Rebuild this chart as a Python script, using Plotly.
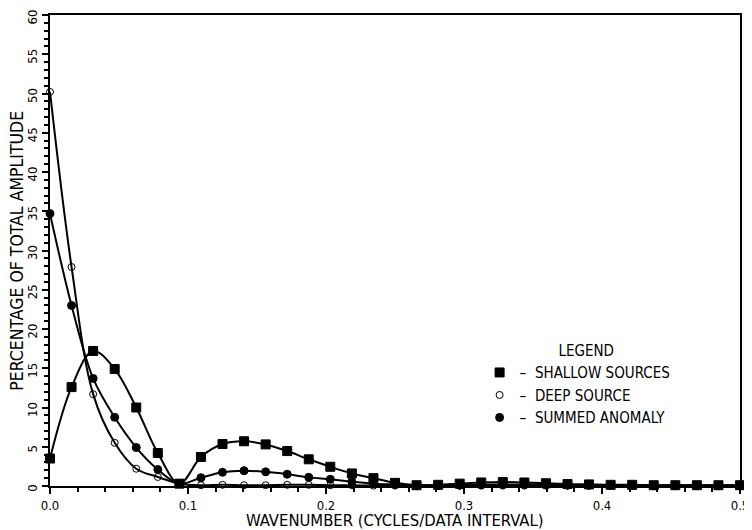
import plotly.graph_objects as go

# wavenumber index k -> k/64 cycles per data interval
k_index = list(range(33))
wavenumber = [k / 64 for k in k_index]

shallow = [3.5, 12.6, 17.2, 14.9, 10.0, 4.2, 0.3, 3.7, 5.35, 5.7, 5.3, 4.45, 3.4,
           2.45, 1.6, 1.0, 0.4, 0.1, 0.15, 0.3, 0.45, 0.5, 0.45, 0.35, 0.25, 0.2,
           0.15, 0.15, 0.1, 0.1, 0.1, 0.1, 0.1]
deep = [50.2, 27.9, 11.7, 5.5, 2.2, 1.15, 0.3, 0.1, 0.15, 0.1, 0.1, 0.15, 0.15,
        0.1, 0.1, 0.05, 0.05, 0.05, 0.05, 0.05, 0.05, 0.05, 0.05, 0.05, 0.05,
        0.05, 0.05, 0.05, 0.05, 0.05, 0.05, 0.05, 0.05]
summed = [34.7, 23.0, 13.7, 8.75, 4.9, 2.1, 0.3, 1.05, 1.75, 1.95, 1.8, 1.5, 1.1,
          0.85, 0.55, 0.3, 0.2, 0.1, 0.05, 0.1, 0.15, 0.2, 0.2, 0.15, 0.1, 0.1,
          0.1, 0.05, 0.05, 0.05, 0.05, 0.05, 0.05]

names = ["SHALLOW SOURCES", "DEEP SOURCE", "SUMMED ANOMALY"]
symbols = ["square", "circle-open", "circle"]
sizes = [9, 7, 8]
series = [shallow, deep, summed]

x_ticks = [0, 0.1, 0.2, 0.3, 0.4, 0.5]
x_ticktext = ["0.0", "0.1", "0.2", "0.3", "0.4", "0.5"]
y_ticks = list(range(0, 61, 5))

x_title = "WAVENUMBER (CYCLES/DATA INTERVAL)"
y_title = "PERCENTAGE OF TOTAL AMPLITUDE"
legend_title = "\u00a0\u00a0\u00a0\u00a0LEGEND"

FONT = "DejaVu Sans Condensed, DejaVu Sans, sans-serif"

fig = go.Figure()
for vals, sym, sz in zip(series, symbols, sizes):
    fig.add_trace(go.Scatter(
        x=wavenumber, y=vals, mode="lines+markers",
        line=dict(color="black", width=2, shape="spline", smoothing=1.0),
        marker=dict(symbol=sym, size=sz, color="black",
                    line=dict(color="black", width=1)),
        showlegend=False, cliponaxis=False))

for name, sym, sz in zip(names, symbols, sizes):
    fig.add_trace(go.Scatter(
        x=[None], y=[None], mode="markers", name="\u2013  " + name,
        marker=dict(symbol=sym, size=sz, color="black",
                    line=dict(color="black", width=1)),
        showlegend=True))

# page body has an 8px margin, so the figure is sized to fit inside the window
fig.update_layout(
    width=744, height=522,
    margin=dict(l=42, r=12, t=7, b=44),
    paper_bgcolor="white", plot_bgcolor="white",
    font=dict(family=FONT, color="black", size=14),
    legend=dict(
        x=0.6226, y=0.317, xanchor="left", yanchor="top",
        bgcolor="rgba(0,0,0,0)", borderwidth=0,
        font=dict(size=15, family=FONT),
        title=dict(text=legend_title, side="top center", font=dict(size=15, family=FONT)),
        itemwidth=30, tracegroupgap=0,
    ),
    xaxis=dict(
        range=[0, 0.5], tickmode="array",
        tickvals=x_ticks, ticktext=x_ticktext,
        ticks="outside", ticklen=6, tickwidth=2, tickcolor="black",
        minor=dict(dtick=0.02, ticks="outside", ticklen=4, tickwidth=2, tickcolor="black"),
        showline=True, linewidth=2, linecolor="black", mirror=True,
        showgrid=False, zeroline=False, automargin=False,
        ticklabeloverflow="allow",
        tickfont=dict(size=13, family=FONT),
    ),
    yaxis=dict(
        range=[0, 60], tickmode="array", tickvals=y_ticks,
        ticks="outside", ticklen=6, tickwidth=2, tickcolor="black",
        minor=dict(dtick=1, ticks="outside", ticklen=4, tickwidth=2, tickcolor="black"),
        showline=True, linewidth=2, linecolor="black", mirror=True,
        showgrid=False, zeroline=False, tickangle=-90, automargin=False,
        ticklabeloverflow="allow", ticklabelshift=4,
        tickfont=dict(size=13, family=FONT),
    ),
    annotations=[
        dict(text=x_title, xref="paper", yref="paper", x=0.5, y=-0.074,
             xanchor="center", yanchor="middle", showarrow=False,
             font=dict(size=16.5, family=FONT)),
        dict(text=y_title, xref="paper", yref="paper", x=-0.049, y=0.5,
             xanchor="center", yanchor="middle", showarrow=False, textangle=-90,
             font=dict(size=17.5, family=FONT)),
    ],
)

fig.write_html("out.html")
